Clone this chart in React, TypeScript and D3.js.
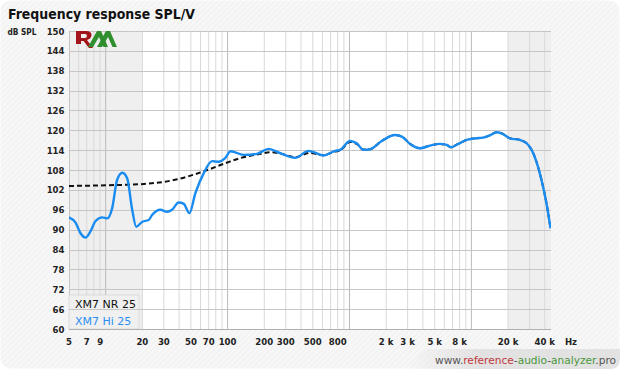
import React from "react";
import * as d3 from "d3";

// XM7 Hi 25 (blue)
const hiFreq = [5, 5.66, 6.2, 6.84, 7.5, 8.26, 9.37, 10.3, 11.3, 12.4, 13.7, 15, 16.5, 17.8, 20, 22.5, 24, 28.1, 31.9, 35, 39.7, 43.7, 48.6, 54.4, 63.6, 74.6, 84.3, 95, 106, 135, 174, 217, 270, 359, 461, 507, 612, 763, 838, 1012, 1147, 1300, 1475, 1840, 2366, 2690, 3140, 3790, 4580, 5530, 6280, 6760, 7800, 9140, 11040, 12500, 14000, 16100, 17700, 20700, 25000, 28400, 31200, 34200, 37600, 41300, 44600];
const hiDb = [93.7, 92.1, 89.0, 87.6, 89.5, 92.6, 93.7, 93.4, 96.5, 105, 107.2, 105.5, 96, 90.9, 92.4, 92.9, 94.4, 96, 95.4, 96, 98.2, 97.8, 95, 101, 107, 110.7, 110.5, 111.5, 113.7, 112.6, 112.9, 114.4, 113.1, 111.7, 113.8, 113.4, 112.4, 113.8, 114.1, 116.8, 116.1, 114.1, 114.3, 116.8, 118.6, 118.1, 115.9, 114.6, 115.4, 115.9, 115.6, 114.9, 115.9, 117.1, 117.6, 117.8, 118.4, 119.4, 119.1, 117.6, 117.1, 116.1, 114.1, 110.5, 105, 98, 90.4];

// XM7 NR 25 (black dashed)
const nrFreq = [5, 10, 20.6, 38.6, 63.6, 98, 127, 186, 224, 270, 359, 470, 612, 763, 838, 1012, 1147, 1300, 1475, 1840, 2366, 2690, 3140, 3790, 4580, 5530, 6280, 6760, 7800, 9140, 11040, 12500, 14000, 16100, 17700, 20700, 25000, 28400, 31200, 34200, 37600, 41300, 44600];
const nrDb = [103.2, 103.4, 103.8, 105.2, 107.6, 110.2, 111.6, 112.9, 113.4, 113.0, 111.9, 113.2, 112.5, 113.6, 113.9, 116.5, 115.9, 114.2, 114.3, 116.8, 118.6, 118.1, 115.9, 114.6, 115.4, 115.9, 115.6, 114.9, 115.9, 117.1, 117.6, 117.8, 118.4, 119.4, 119.1, 117.6, 117.1, 116.1, 114.1, 110.5, 105, 98, 90.4];

const xTicks = [5, 7, 9, 20, 30, 50, 70, 100, 200, 300, 500, 800, 2000, 3000, 5000, 8000, 20000, 40000];
const yTicks = [60, 66, 72, 78, 84, 90, 96, 102, 108, 114, 120, 126, 132, 138, 144, 150];
const seriesNames = ["XM7 NR 25", "XM7 Hi 25"];

const W = 620, H = 369;
const left = 69, right = 551, top = 31, bottom = 329;
const font = "'DejaVu Sans Condensed', 'DejaVu Sans', sans-serif";

export default function App() {
  const x = d3.scaleLog().domain([5, 45000]).range([left, right]);
  const y = d3.scaleLinear().domain([60, 150]).range([bottom, top]);

  const gridF: number[] = [];
  for (let k = 0; k <= 4; k++) {
    for (let m = 1; m <= 9; m++) {
      const f = m * Math.pow(10, k);
      if (f > 5 && f < 45000) gridF.push(f);
    }
  }

  const line = d3
    .line<[number, number]>()
    .x((d) => x(d[0]))
    .y((d) => y(d[1]))
    .curve(d3.curveMonotoneX);

  const hiPts = hiFreq.map((f, i) => [f, hiDb[i]] as [number, number]);
  const nrPts = nrFreq.map((f, i) => [f, nrDb[i]] as [number, number]);

  const fmt = (f: number) => (f >= 1000 ? `${f / 1000} k` : `${f}`);

  return (
    <div style={{ position: "absolute", left: 0, top: 0 }}>
      <svg width={W} height={H} fontFamily={font}>
        <defs>
          <pattern id="bgpat" width="4" height="4" patternUnits="userSpaceOnUse" patternTransform="rotate(45)">
            <rect width="4" height="4" fill="#f3f3f3" />
            <rect width="1.5" height="4" fill="#f9f9f9" />
          </pattern>
          <linearGradient id="wm" x1="0" x2="1" y1="0" y2="0">
            <stop offset="0" stopColor="#e2e2e2" stopOpacity="0" />
            <stop offset="0.35" stopColor="#e2e2e2" stopOpacity="1" />
            <stop offset="1" stopColor="#e2e2e2" stopOpacity="1" />
          </linearGradient>
          <clipPath id="plotclip">
            <rect x={left} y={top} width={right - left} height={bottom - top} />
          </clipPath>
        </defs>
        <rect x={0} y={0} width={W} height={H} fill="#ffffff" />
        <rect x={0.5} y={0.5} width={W - 1} height={H - 1} rx={10} fill="url(#bgpat)" />

        {/* plot area */}
        <rect x={left} y={top} width={right - left} height={bottom - top} fill="#ffffff" />
        <rect x={left} y={top} width={x(20) - left} height={bottom - top} fill="#efefef" />
        <rect x={x(20000)} y={top} width={right - x(20000)} height={bottom - top} fill="#efefef" />

        {gridF.map((f) => {
          const major = [10, 100, 1000, 10000].includes(f);
          return (
            <line key={"v" + f} x1={x(f)} x2={x(f)} y1={top} y2={bottom}
              stroke={major ? "#b9b9b9" : "#d9d9d9"} strokeWidth={1} />
          );
        })}
        <line x1={left + 0.5} x2={left + 0.5} y1={top} y2={bottom} stroke="#c4c4c4" />

        {/* legend box */}
        <rect x={left} y={295} width={70} height={34} fill="#f0f0f0" stroke="#d6d6d6" strokeWidth={0.8} />

        {yTicks.map((t) => (
          <line key={"h" + t} x1={left} x2={right} y1={Math.round(y(t)) + 0.5} y2={Math.round(y(t)) + 0.5}
            stroke={t === 60 ? "#b0b0b0" : "#c6c6c6"} strokeWidth={1} />
        ))}

        <g clipPath="url(#plotclip)">
          <path d={line(nrPts) || ""} fill="none" stroke="#111" strokeWidth={2} strokeDasharray="5,3" />
          <path d={line(hiPts) || ""} fill="none" stroke="#1a8cf0" strokeWidth={2.4} />
        </g>

        {/* legend */}
        <text x={75} y={307.5} fontSize={11} fontFamily="'DejaVu Sans', sans-serif" fill="#111">{seriesNames[0]}</text>
        <text x={75} y={324.5} fontSize={11} fontFamily="'DejaVu Sans', sans-serif" fill="#2a8ff0">{seriesNames[1]}</text>

        {/* logo */}
        <g>
          <path d="M76,31 L86,31 Q92,31 91.5,35.5 Q91,39 87,40 L93,48 L89,48 L83.5,41 L81,41 L81,44 L76,44 Z M81,34 L81,38 L85,38 Q87,38 87,36 Q87,34 85,34 Z" fill="#a3151a" fillRule="evenodd" />
          <path d="M88,47 L97,31 L101,31 L108,47 L103.5,47 L99,37 L93,47 Z" fill="#2f8f2f" />
          <path d="M97,47 L106,31 L110,31 L117,47 L112.5,47 L108,37 L102,47 Z" fill="#2f8f2f" />
        </g>

        {/* axes labels */}
        {yTicks.map((t) => (
          <text key={"yl" + t} x={64.5} y={y(t) + 3.5} textAnchor="end" fontSize={9.5} fontWeight="bold" fill="#222">{t}</text>
        ))}
        {xTicks.map((t) => (
          <text key={"xl" + t} x={x(t)} y={345} textAnchor="middle" fontSize={9.5} fontWeight="bold" fill="#222">{fmt(t)}</text>
        ))}
        <text x={571} y={345} textAnchor="middle" fontSize={9.5} fontWeight="bold" fill="#222">Hz</text>
        <text x={7.5} y={34.5} fontSize={9} fontWeight="bold" fill="#222" textLength={29} lengthAdjust="spacingAndGlyphs">dB SPL</text>

        <text x={8} y={19} fontSize={14.5} fontWeight="bold" fill="#111" textLength={187} lengthAdjust="spacingAndGlyphs">Frequency response SPL/V</text>

        {/* watermark */}
        <path d={`M405,369 L425,349 L${W},349 L${W},359 Q${W},369 ${W - 10},369 Z`} fill="url(#wm)" />
        <text x={435} y={364} fontSize={11} fill="#555" textLength={181} lengthAdjust="spacingAndGlyphs">
          <tspan>www.</tspan>
          <tspan fill="#c0393b">reference</tspan>
          <tspan>-</tspan>
          <tspan fill="#4a963a">audio</tspan>
          <tspan>-</tspan>
          <tspan fill="#4a963a">analyzer</tspan>
          <tspan>.pro</tspan>
        </text>
      </svg>
    </div>
  );
}
